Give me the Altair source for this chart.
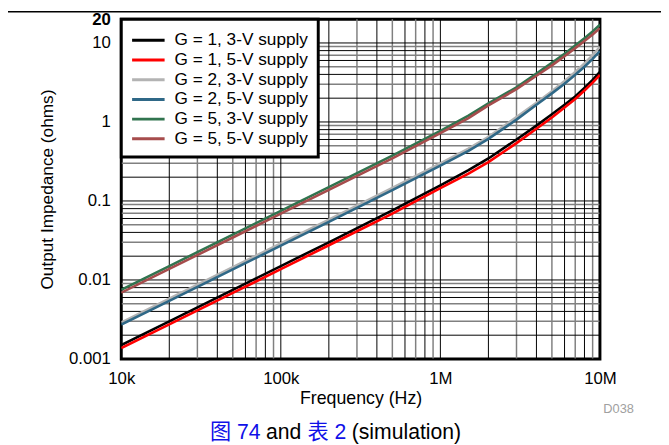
import altair as alt
import pandas as pd

# ---------------- data ----------------
freq = [1e4, 2e4, 5e4, 1e5, 2e5, 5e5, 1e6, 1.5e6, 2e6, 3e6, 4e6, 5e6, 6e6, 7e6, 8e6, 9e6, 1e7]

g1_3v = [0.00150, 0.0030, 0.0075, 0.0150, 0.030, 0.076, 0.158, 0.245, 0.345, 0.60, 0.90, 1.25, 1.65, 2.1, 2.7, 3.4, 4.3]
g1_5v = [0.00137, 0.00274, 0.00685, 0.0137, 0.0275, 0.069, 0.145, 0.222, 0.31, 0.54, 0.82, 1.14, 1.52, 1.95, 2.5, 3.15, 3.95]
g2_3v = [0.0029, 0.0058, 0.0145, 0.029, 0.058, 0.146, 0.30, 0.46, 0.65, 1.15, 1.75, 2.45, 3.3, 4.3, 5.5, 7.0, 8.9]
g2_5v = [0.00272, 0.00544, 0.0136, 0.0272, 0.0545, 0.137, 0.28, 0.43, 0.61, 1.07, 1.65, 2.3, 3.05, 3.95, 5.0, 6.3, 7.9]
g5_3v = [0.0075, 0.015, 0.0375, 0.075, 0.150, 0.375, 0.77, 1.20, 1.72, 2.75, 4.1, 5.6, 7.3, 9.3, 11.5, 14.0, 17.0]
g5_5v = [0.0069, 0.0138, 0.0345, 0.069, 0.138, 0.345, 0.72, 1.12, 1.62, 2.6, 3.85, 5.2, 6.8, 8.6, 10.6, 12.8, 15.4]

series_names = ["G = 1, 3-V supply", "G = 1, 5-V supply", "G = 2, 3-V supply",
                "G = 2, 5-V supply", "G = 5, 3-V supply", "G = 5, 5-V supply"]
series_values = [g1_3v, g1_5v, g2_3v, g2_5v, g5_3v, g5_5v]
series_colors = ["#000000", "#FF0000", "#B3B3B3", "#2F6887", "#31744F", "#A64C4C"]

x_major = [1e4, 1e5, 1e6, 1e7]
x_major_labels = ["10k", "100k", "1M", "10M"]
y_major = [0.001, 0.01, 0.1, 1, 10, 20]
y_major_labels = ["0.001", "0.01", "0.1", "1", "10", "20"]
dark_mult = [2, 4, 6, 8]
light_mult = [3, 5, 7, 9]
x_decades = [1e4, 1e5, 1e6]
y_decades = [0.001, 0.01, 0.1, 1]

caption_parts = ["图 74", "and", "表 2", "(simulation)"]
caption_colors = ["#1010E8", "#000000", "#1010E8", "#000000"]
note_text = "D038"

# ---------------- build tables ----------------
rows = []
for name, vals in zip(series_names, series_values):
    for f, v in zip(freq, vals):
        rows.append({"f": f, "z": v, "series": name})
df = pd.DataFrame(rows)

x_dark = sorted(set(x_major + [round(m * d, 6) for d in x_decades for m in dark_mult]))
x_light = [round(m * d, 6) for d in x_decades for m in light_mult]
y_dark = sorted(set(y_major[:-1] + [round(m * d, 10) for d in y_decades for m in dark_mult]))
y_light = [round(m * d, 10) for d in y_decades for m in light_mult]


def label_expr(vals, labels):
    expr = "''"
    for v, l in reversed(list(zip(vals, labels))):
        expr = f"(abs(datum.value - {v}) < {v}*1e-6) ? '{l}' : ({expr})"
    return expr


FONT = "Liberation Sans"
CAPFONT = "Liberation Sans, Noto Sans CJK SC"

xscale = alt.Scale(type="log", domain=[1e4, 1e7])
yscale = alt.Scale(type="log", domain=[0.001, 20])

x_axis = alt.Axis(
    values=x_major, labelExpr=label_expr(x_major, x_major_labels), title="Frequency (Hz)",
    grid=False, ticks=False, domain=False, labelOverlap=False, labelFlush=False, labelBound=False,
    labelFontSize=17, labelFont=FONT, labelColor="#000", labelPadding=12, labelFontWeight="normal",
    titleFontSize=18, titleFont=FONT, titleFontWeight="normal", titleColor="#000", titlePadding=3,
)
y_axis = alt.Axis(
    values=y_major, labelExpr=label_expr(y_major, y_major_labels), title="Output Impedance (ohms)",
    grid=False, ticks=False, domain=False, labelOverlap=False, labelBound=False, labelFlush=False,
    labelFontSize=17, labelFont=FONT, labelColor="#000", labelPadding=11,
    labelFontWeight={"condition": {"test": "datum.value > 15", "value": "bold"}, "value": "normal"},
    titleFontSize=17.5, titleFont=FONT, titleFontWeight="normal", titleColor="#000", titlePadding=12,
)


def vgrid(vals, color, width):
    return alt.Chart(pd.DataFrame({"f": vals})).mark_rule(color=color, strokeWidth=width).encode(
        x=alt.X("f:Q", scale=xscale, axis=x_axis)
    )


def hgrid(vals, color, width):
    return alt.Chart(pd.DataFrame({"z": vals})).mark_rule(color=color, strokeWidth=width).encode(
        y=alt.Y("z:Q", scale=yscale, axis=y_axis)
    )


grids = [vgrid(x_light, "#808080", 1.5), hgrid(y_light, "#808080", 1.5),
         vgrid(x_dark, "#000000", 1), hgrid(y_dark, "#000000", 1)]

lines = alt.Chart(df).mark_line(strokeWidth=2.6, clip=True).encode(
    x=alt.X("f:Q", scale=xscale, axis=x_axis),
    y=alt.Y("z:Q", scale=yscale, axis=y_axis),
    color=alt.Color(
        "series:N",
        scale=alt.Scale(domain=series_names, range=series_colors),
        sort=series_names,
        legend=alt.Legend(
            title=None, orient="none", legendX=0, legendY=0,
            fillColor="white", strokeColor="black", padding=10, cornerRadius=0,
            symbolType="M-1.65,0H1.65", symbolSize=400, symbolStrokeWidth=3,
            symbolOffset=6, labelOffset=15, rowPadding=0,
            labelFontSize=17.5, labelFont=FONT, labelColor="#000", labelLimit=300,
        ),
    ),
    order=alt.Order("series_idx:Q"),
    detail="series:N",
).transform_calculate(
    series_idx="indexof(" + str(series_names) + ", datum.series)"
)

one = pd.DataFrame({"a": [0]})

top_line = alt.Chart(one).mark_rule(color="black", strokeWidth=1.5).encode(
    x=alt.value(-125), x2=alt.value(560), y=alt.value(-7.5)
)

note = alt.Chart(one).mark_text(font=FONT, fontSize=13, color="#A0A0A0", align="center",
                                baseline="middle").encode(
    x=alt.value(505), y=alt.value(396), text=alt.value(note_text)
)

caption_x = [90, 147, 189, 234]
caption_layers = []
for part, col, xp in zip(caption_parts, caption_colors, caption_x):
    caption_layers.append(
        alt.Chart(one).mark_text(font=CAPFONT, fontSize=21.5, color=col, align="left",
                                 baseline="middle").encode(
            x=alt.value(xp), y=alt.value(420), text=alt.value(part)
        )
    )

chart = alt.layer(*grids, lines, top_line, note, *caption_layers).properties(
    width=486, height=345,
    autosize=alt.AutoSizeParams(type="none"),
    padding={"left": 115, "top": 8, "right": 62, "bottom": 84},
).configure_view(
    stroke="black", strokeWidth=3
).configure_legend(
    strokeWidth=3
)

chart.save("out.html", embed_options={"renderer": "svg", "actions": False})
